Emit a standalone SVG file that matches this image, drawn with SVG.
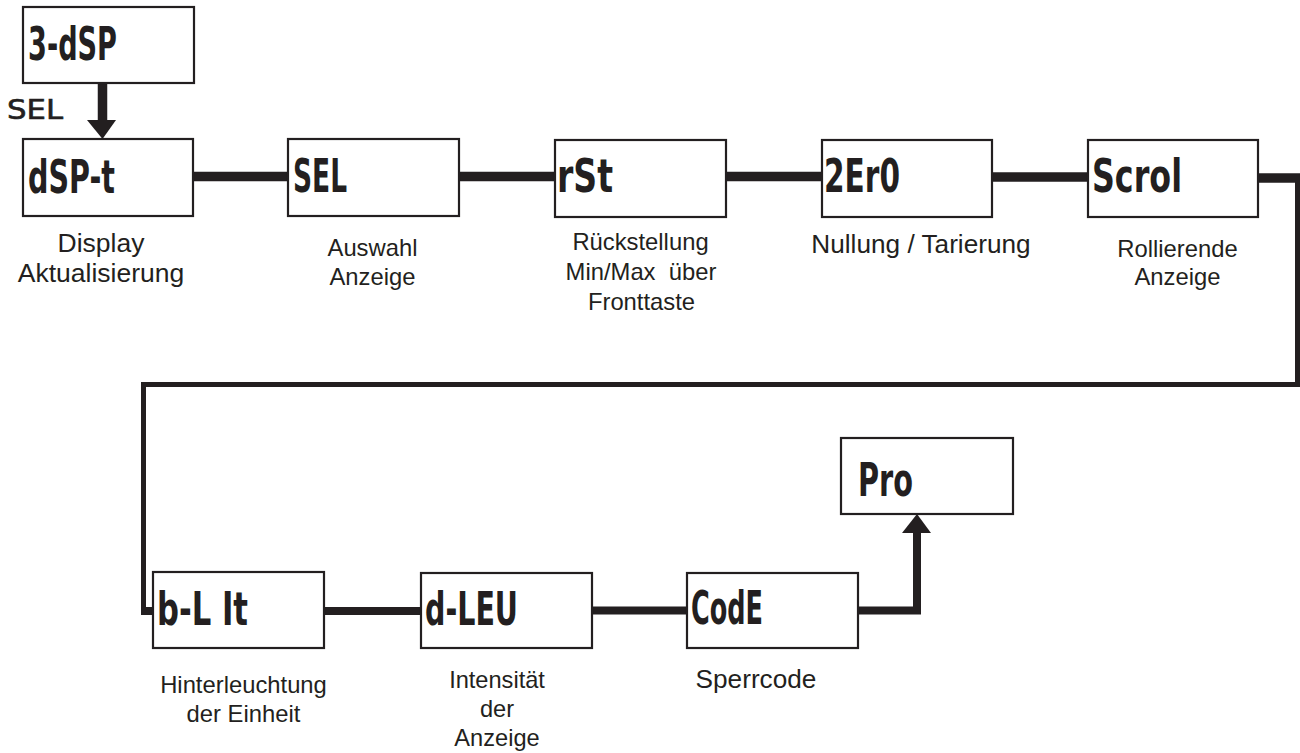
<svg xmlns="http://www.w3.org/2000/svg" width="1300" height="753" viewBox="0 0 1300 753">
<style>
.box{fill:#fff;stroke:#231f20;stroke-width:2.2}
.lcd{font-family:"Liberation Sans Narrow","DejaVu Sans Condensed","Liberation Sans",sans-serif;font-weight:bold;font-size:46px;fill:#231f20}
.lbl{font-family:"Liberation Sans",Arial,sans-serif;fill:#231f20;text-anchor:middle}
.thick{stroke:#231f20;stroke-width:9.5;fill:none}
.mid{stroke:#231f20;stroke-width:8;fill:none}
.thin{stroke:#231f20;stroke-width:5;fill:none}
</style>
<rect width="1300" height="753" fill="#fff"/>
<g id="connectors">
  <line class="thick" x1="193" y1="176.5" x2="288" y2="176.5"/>
  <line class="thick" x1="459" y1="176.5" x2="555" y2="176.5"/>
  <line class="thick" x1="726" y1="176.5" x2="822" y2="176.5"/>
  <line class="thick" x1="992" y1="177" x2="1088" y2="177"/>
  <line class="thick" x1="1258" y1="178" x2="1300" y2="178"/>
  <polyline class="thin" points="1297.5,175 1297.5,384.5 143.5,384.5 143.5,613"/>
  <line class="mid" x1="141" y1="611" x2="153" y2="611"/>
  <line class="mid" x1="324" y1="611" x2="421" y2="611"/>
  <line class="mid" x1="592" y1="610.5" x2="687" y2="610.5"/>
  <polyline class="mid" points="858,610.5 917,610.5 917,530"/>
  <polygon points="902,533 917,514 931,533" fill="#231f20"/>
  <line class="thick" x1="102.5" y1="83" x2="102.5" y2="122"/>
  <polygon points="87,120 102.5,139 116,120" fill="#231f20"/>
  <text x="7" y="119" font-family="'DejaVu Sans','Liberation Sans',sans-serif" font-size="26" fill="#231f20" stroke="#231f20" stroke-width="0.6" textLength="56" lengthAdjust="spacingAndGlyphs">SEL</text>
</g>
<g id="n-3dsp">
  <rect class="box" x="23" y="7" width="171" height="76"/>
  <text class="lcd" x="28" y="60" textLength="89" lengthAdjust="spacingAndGlyphs">3-dSP</text>
</g>
<g id="n-dspt">
  <rect class="box" x="23" y="139" width="170" height="77"/>
  <text class="lcd" x="28" y="193" textLength="87" lengthAdjust="spacingAndGlyphs">dSP-t</text>
  <text class="lbl" font-size="26.5" x="101" y="252">Display</text>
  <text class="lbl" font-size="26.5" x="101" y="282">Aktualisierung</text>
</g>
<g id="n-sel">
  <rect class="box" x="288" y="139" width="171" height="77"/>
  <text class="lcd" x="293" y="192" textLength="54" lengthAdjust="spacingAndGlyphs">SEL</text>
  <text class="lbl" font-size="23.8" x="372.5" y="256">Auswahl</text>
  <text class="lbl" font-size="23.8" x="372.5" y="285">Anzeige</text>
</g>
<g id="n-rst">
  <rect class="box" x="555" y="140" width="171" height="77"/>
  <text class="lcd" x="557" y="192" textLength="56" lengthAdjust="spacingAndGlyphs">rSt</text>
  <text class="lbl" font-size="23.8" x="640.5" y="250">Rückstellung</text>
  <text class="lbl" font-size="23.8" x="641" y="280" xml:space="preserve">Min/Max  über</text>
  <text class="lbl" font-size="23.8" x="641.5" y="310">Fronttaste</text>
</g>
<g id="n-zero">
  <rect class="box" x="822" y="140" width="170" height="77"/>
  <text class="lcd" x="824" y="192" textLength="76" lengthAdjust="spacingAndGlyphs">2Er0</text>
  <text class="lbl" font-size="26.2" x="921" y="253">Nullung / Tarierung</text>
</g>
<g id="n-scrol">
  <rect class="box" x="1088" y="140" width="170" height="77"/>
  <text class="lcd" x="1092" y="192" textLength="90" lengthAdjust="spacingAndGlyphs">Scrol</text>
  <text class="lbl" font-size="23.8" x="1177.5" y="257">Rollierende</text>
  <text class="lbl" font-size="23.8" x="1177.5" y="285">Anzeige</text>
</g>
<g id="n-blit">
  <rect class="box" x="153" y="572" width="171" height="76"/>
  <text class="lcd" x="157" y="625" textLength="91" lengthAdjust="spacingAndGlyphs" xml:space="preserve">b-L It</text>
  <text class="lbl" font-size="23.8" x="243.5" y="693">Hinterleuchtung</text>
  <text class="lbl" font-size="23.8" x="243.5" y="722">der Einheit</text>
</g>
<g id="n-dlev">
  <rect class="box" x="421" y="573" width="171" height="75"/>
  <text class="lcd" x="425" y="625" textLength="93" lengthAdjust="spacingAndGlyphs">d-LEU</text>
  <text class="lbl" font-size="23.6" x="497" y="688">Intensität</text>
  <text class="lbl" font-size="23.6" x="497" y="717">der</text>
  <text class="lbl" font-size="23.6" x="497" y="746">Anzeige</text>
</g>
<g id="n-code">
  <rect class="box" x="687" y="573" width="171" height="75"/>
  <text class="lcd" x="691" y="624" textLength="72" lengthAdjust="spacingAndGlyphs">CodE</text>
  <text class="lbl" font-size="26.2" x="756" y="688">Sperrcode</text>
</g>
<g id="n-pro">
  <rect class="box" x="841" y="438" width="172" height="76"/>
  <text class="lcd" x="858" y="496" textLength="55" lengthAdjust="spacingAndGlyphs">Pro</text>
</g>
</svg>
